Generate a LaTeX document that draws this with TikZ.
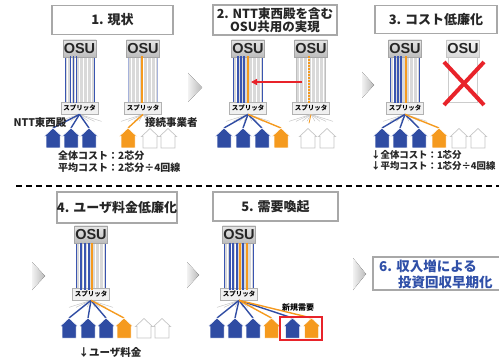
\documentclass[tikz,border=0pt]{standalone}
\usepackage{fontspec}
\setmainfont{Liberation Sans}
\newfontfamily\jp{Noto Sans CJK JP}
\usetikzlibrary{arrows.meta}

\definecolor{nttblue}{HTML}{2F4CA3}
\definecolor{fibblue}{HTML}{3A55B0}
\definecolor{orng}{HTML}{F59A1E}
\definecolor{xred}{HTML}{E8232A}
\definecolor{boxgray}{HTML}{A8A8A8}
\definecolor{ttlblue}{HTML}{3050A8}

\tikzset{
  titlebox/.style={draw=boxgray, line width=1.3pt, fill=white, inner sep=0pt,
    font=\jp\bfseries\fontsize{13}{14}\selectfont, text=black!85, align=center},
  osuhead/.style={draw=gray!70, line width=0.6pt, top color=gray!20, bottom color=gray!52,
    minimum width=33, minimum height=17, inner sep=0pt,
    font=\bfseries\fontsize{14.5}{14.5}\selectfont, text=black!85},
  osubody/.style={fill=gray!30, line width=1pt, minimum width=29, minimum height=46, inner sep=0pt,
    path picture={\draw[white, line width=0.35pt, xstep=4, ystep=2.5]
      (path picture bounding box.south west) grid (path picture bounding box.north east);}},
  splitbox/.style={draw=gray!60, line width=0.7pt, fill=gray!12, minimum width=37, minimum height=12,
    inner sep=0pt, font=\jp\bfseries\fontsize{6.5}{7}\selectfont},
  fiber/.style={line width=1.2pt, draw=#1},
  feed/.style={line width=1.4pt, draw=#1},
  ray/.style={draw=gray!45, line width=0.5pt},
  chev/.style={left color=gray!10, right color=gray!55},
  lbl/.style={font=\jp\bfseries\fontsize{10.5}{11.5}\selectfont, text=black!85, inner sep=0pt},
  costtxt/.style={font=\jp\bfseries\fontsize{10}{11.5}\selectfont, text=black!85, inner sep=0pt, align=left},
  pics/house/.style={code={
    \filldraw[fill=#1, draw=white, line width=0.5pt]
      (-9,0.5) -- (0,-8) -- (9,0.5) -- (7,0.5) -- (7,12) -- (-7,12) -- (-7,0.5) -- cycle;
    \coordinate (-top) at (0,-8);}},
  pics/emptyhouse/.style={code={
    \filldraw[fill=white, draw=gray!45, line width=0.7pt]
      (-8.5,0.5) -- (0,-7.5) -- (8.5,0.5) -- (7,0.5) -- (7,12) -- (-7,12) -- (-7,0.5) -- cycle;
    \coordinate (-top) at (0,-8);}}
}

% OSU tower: name, centre x, top y, frame colour
\newcommand\osutower[4]{%
  \node[osubody, draw=#4] (#1b) at (#2,#3+40) {};
  \node[osuhead] (#1h) at (#2,#3+8.5) {OSU};
  \node[splitbox] (#1s) at (#2,#3+68) {スプリッタ};
}
% fan of short grey rays under a splitter
\newcommand\splitrays[1]{%
  \foreach \dx in {-22,-15,-9,-4,4,9,15,22}
    \draw[ray] (#1.south) -- ++(\dx,7);
}

\begin{document}
\begin{tikzpicture}[x=1pt,y=-1pt]
\useasboundingbox (0,0) rectangle (499,361);

% ---------- titles ----------
\node[titlebox, minimum width=121, minimum height=29] (t1) at (112.5,20) {1. 現状};
\node[titlebox, minimum width=124, minimum height=30,
      font=\jp\bfseries\fontsize{12.5}{13}\selectfont] (t2) at (275,20) {2. NTT東西殿を含む\\OSU共用の実現};
\node[titlebox, minimum width=122, minimum height=28] (t3) at (436,19.5) {3. コスト低廉化};
\node[titlebox, minimum width=120, minimum height=31] (t4) at (117,207.5) {4. ユーザ料金低廉化};
\node[titlebox, minimum width=125, minimum height=29] (t5) at (275.5,206.5) {5. 需要喚起};
\node[titlebox, minimum width=128, minimum height=33] (t6) at (437,273.5) {};
\node[anchor=west, align=left, inner sep=0pt, text=ttlblue,
      font=\jp\bfseries\fontsize{13.5}{16}\selectfont] (t6text) at (379,274.5)
      {6. 収入増による\\\hspace*{19pt}投資回収早期化};

% ---------- separators ----------
\draw[line width=1.5pt, dash pattern=on 6pt off 4pt] (16,186) -- (499,186);
\fill[chev] (188,73) -- (202,87.5) -- (188,102) -- cycle;
\fill[chev] (362,72) -- (374,85) -- (362,98) -- cycle;
\fill[chev] (32,262) -- (45,276) -- (32,290) -- cycle;
\fill[chev] (187,262) -- (199,275) -- (187,288) -- cycle;
\fill[chev] (353,258) -- (366,274) -- (353,290) -- cycle;

% ---------- panel 1 ----------
\osutower{A}{79.5}{40}{fibblue}
\foreach \dx in {-9,-6,-3} \draw[fiber=fibblue] ([xshift=\dx pt]Ab.north) -- ([xshift=\dx pt]Ab.south);
\osutower{B}{143}{40}{fibblue!45}
\draw[fiber=orng] ([xshift=-1pt]Bb.north) -- ([xshift=-1pt]Bb.south);
\splitrays{As}
\splitrays{Bs}

\foreach \x in {53,71,89} \draw[feed=nttblue] (As.south) -- (\x,128);
\draw[feed=orng] (Bs.south) -- (128,128);
\foreach \n/\x in {1/53,2/71,3/89} \pic (ha\n) at (\x,136) {house=nttblue};
\pic (ha4) at (128,136) {house=orng};
\pic (ha5) at (150,136) {emptyhouse};
\pic (ha6) at (168,136) {emptyhouse};

\node[lbl] (ntt) at (40,123) {NTT東西殿};
\node[lbl, anchor=west] (opr) at (145,123) {接続事業者};
\node[costtxt, anchor=north west] (cost1) at (58,151) {全体コスト：2芯分\\平均コスト：2芯分÷4回線};

% ---------- panel 2 ----------
\osutower{C}{248}{40}{fibblue}
\foreach \dx in {-10,-7,-4} \draw[fiber=fibblue] ([xshift=\dx pt]Cb.north) -- ([xshift=\dx pt]Cb.south);
\draw[fiber=orng] (Cb.north) -- (Cb.south);
\osutower{D}{311}{40}{gray!50}
\draw[fiber=orng, dash pattern=on 2pt off 1pt] ([xshift=-2pt]Db.north) -- ([xshift=-2pt]Db.south);
\splitrays{Cs}
\splitrays{Ds}
\draw[orng, line width=0.8pt] (Ds.south) -- ++(-2,9);
\draw[xred, line width=1.8pt, -{Triangle[length=6pt,width=6pt]}]
  ([xshift=-9pt,yshift=-2pt]Db.center) -- ([xshift=3pt,yshift=-2pt]Cb.center);

\foreach \x in {224,243,262} \draw[feed=nttblue] (Cs.south) -- (\x,128);
\draw[feed=orng] (Cs.south) -- (281,128);
\foreach \n/\x in {1/224,2/243,3/262} \pic (hb\n) at (\x,136) {house=nttblue};
\pic (hb4) at (281,136) {house=orng};
\pic (hb5) at (308,136) {emptyhouse};
\pic (hb6) at (327,136) {emptyhouse};

% ---------- panel 3 ----------
\osutower{E}{405}{40}{fibblue}
\foreach \dx in {-10,-7,-4} \draw[fiber=fibblue] ([xshift=\dx pt]Eb.north) -- ([xshift=\dx pt]Eb.south);
\draw[fiber=orng] ([xshift=1pt]Eb.north) -- ([xshift=1pt]Eb.south);
\splitrays{Es}
\node[osubody, fill=white, draw=gray!40, path picture={}] (Fb) at (463,80) {};
\node[osuhead, top color=gray!8, bottom color=gray!30, draw=gray!45] (Fh) at (463,48.5) {OSU};
\draw[xred, line width=4pt] (444,62) -- (484,105);
\draw[xred, line width=4pt] (484,62) -- (444,105);

\foreach \x in {382,400,419} \draw[feed=nttblue] (Es.south) -- (\x,128);
\draw[feed=orng] (Es.south) -- (439,128);
\foreach \n/\x in {1/382,2/400,3/419} \pic (hc\n) at (\x,136) {house=nttblue};
\pic (hc4) at (439,136) {house=orng};
\pic (hc5) at (459,136) {emptyhouse};
\pic (hc6) at (478,136) {emptyhouse};
\node[costtxt, anchor=north west, font=\jp\bfseries\fontsize{9.4}{11.5}\selectfont] (cost3) at (371,150)
  {↓全体コスト：1芯分\\↓平均コスト：1芯分÷4回線};

% ---------- panel 4 ----------
\osutower{G}{91}{226}{fibblue}
\foreach \dx in {-10,-6,-2} \draw[fiber=fibblue] ([xshift=\dx pt]Gb.north) -- ([xshift=\dx pt]Gb.south);
\draw[fiber=orng] ([xshift=1pt]Gb.north) -- ([xshift=1pt]Gb.south);
\splitrays{Gs}
\foreach \x in {69,88,106} \draw[feed=nttblue] (Gs.south) -- (\x,318);
\draw[feed=orng] (Gs.south) -- (124,318);
\foreach \n/\x in {1/69,2/88,3/106} \pic (hd\n) at (\x,326) {house=nttblue};
\pic (hd4) at (124,326) {house=orng};
\pic (hd5) at (144,326) {emptyhouse};
\pic (hd6) at (162,326) {emptyhouse};
\node[lbl] (fee) at (110,352) {↓ユーザ料金};

% ---------- panel 5 ----------
\osutower{H}{239}{226}{fibblue}
\foreach \dx/\c in {-9/fibblue,-6/fibblue,-2/fibblue,1/orng,4/fibblue,8/orng}
  \draw[fiber=\c] ([xshift=\dx pt]Hb.north) -- ([xshift=\dx pt]Hb.south);
\splitrays{Hs}
\foreach \x in {217,235,253,292.5} \draw[feed=nttblue] (Hs.south) -- (\x,318);
\foreach \x in {271.5,311.5} \draw[feed=orng] (Hs.south) -- (\x,318);
\foreach \n/\x in {1/217,2/235,3/253} \pic (he\n) at (\x,326) {house=nttblue};
\pic (he4) at (271.5,326) {house=orng};
\pic (he5) at (292.5,326) {house=nttblue};
\pic (he6) at (311.5,326) {house=orng};
\node[draw=xred, line width=1.5pt, minimum width=42, minimum height=23, inner sep=0pt] (newbox) at (301,328.5) {};
\node[font=\jp\bfseries\fontsize{8}{9}\selectfont, inner sep=0pt] (newlbl) at (298,308) {新規需要};

\end{tikzpicture}
\end{document}
